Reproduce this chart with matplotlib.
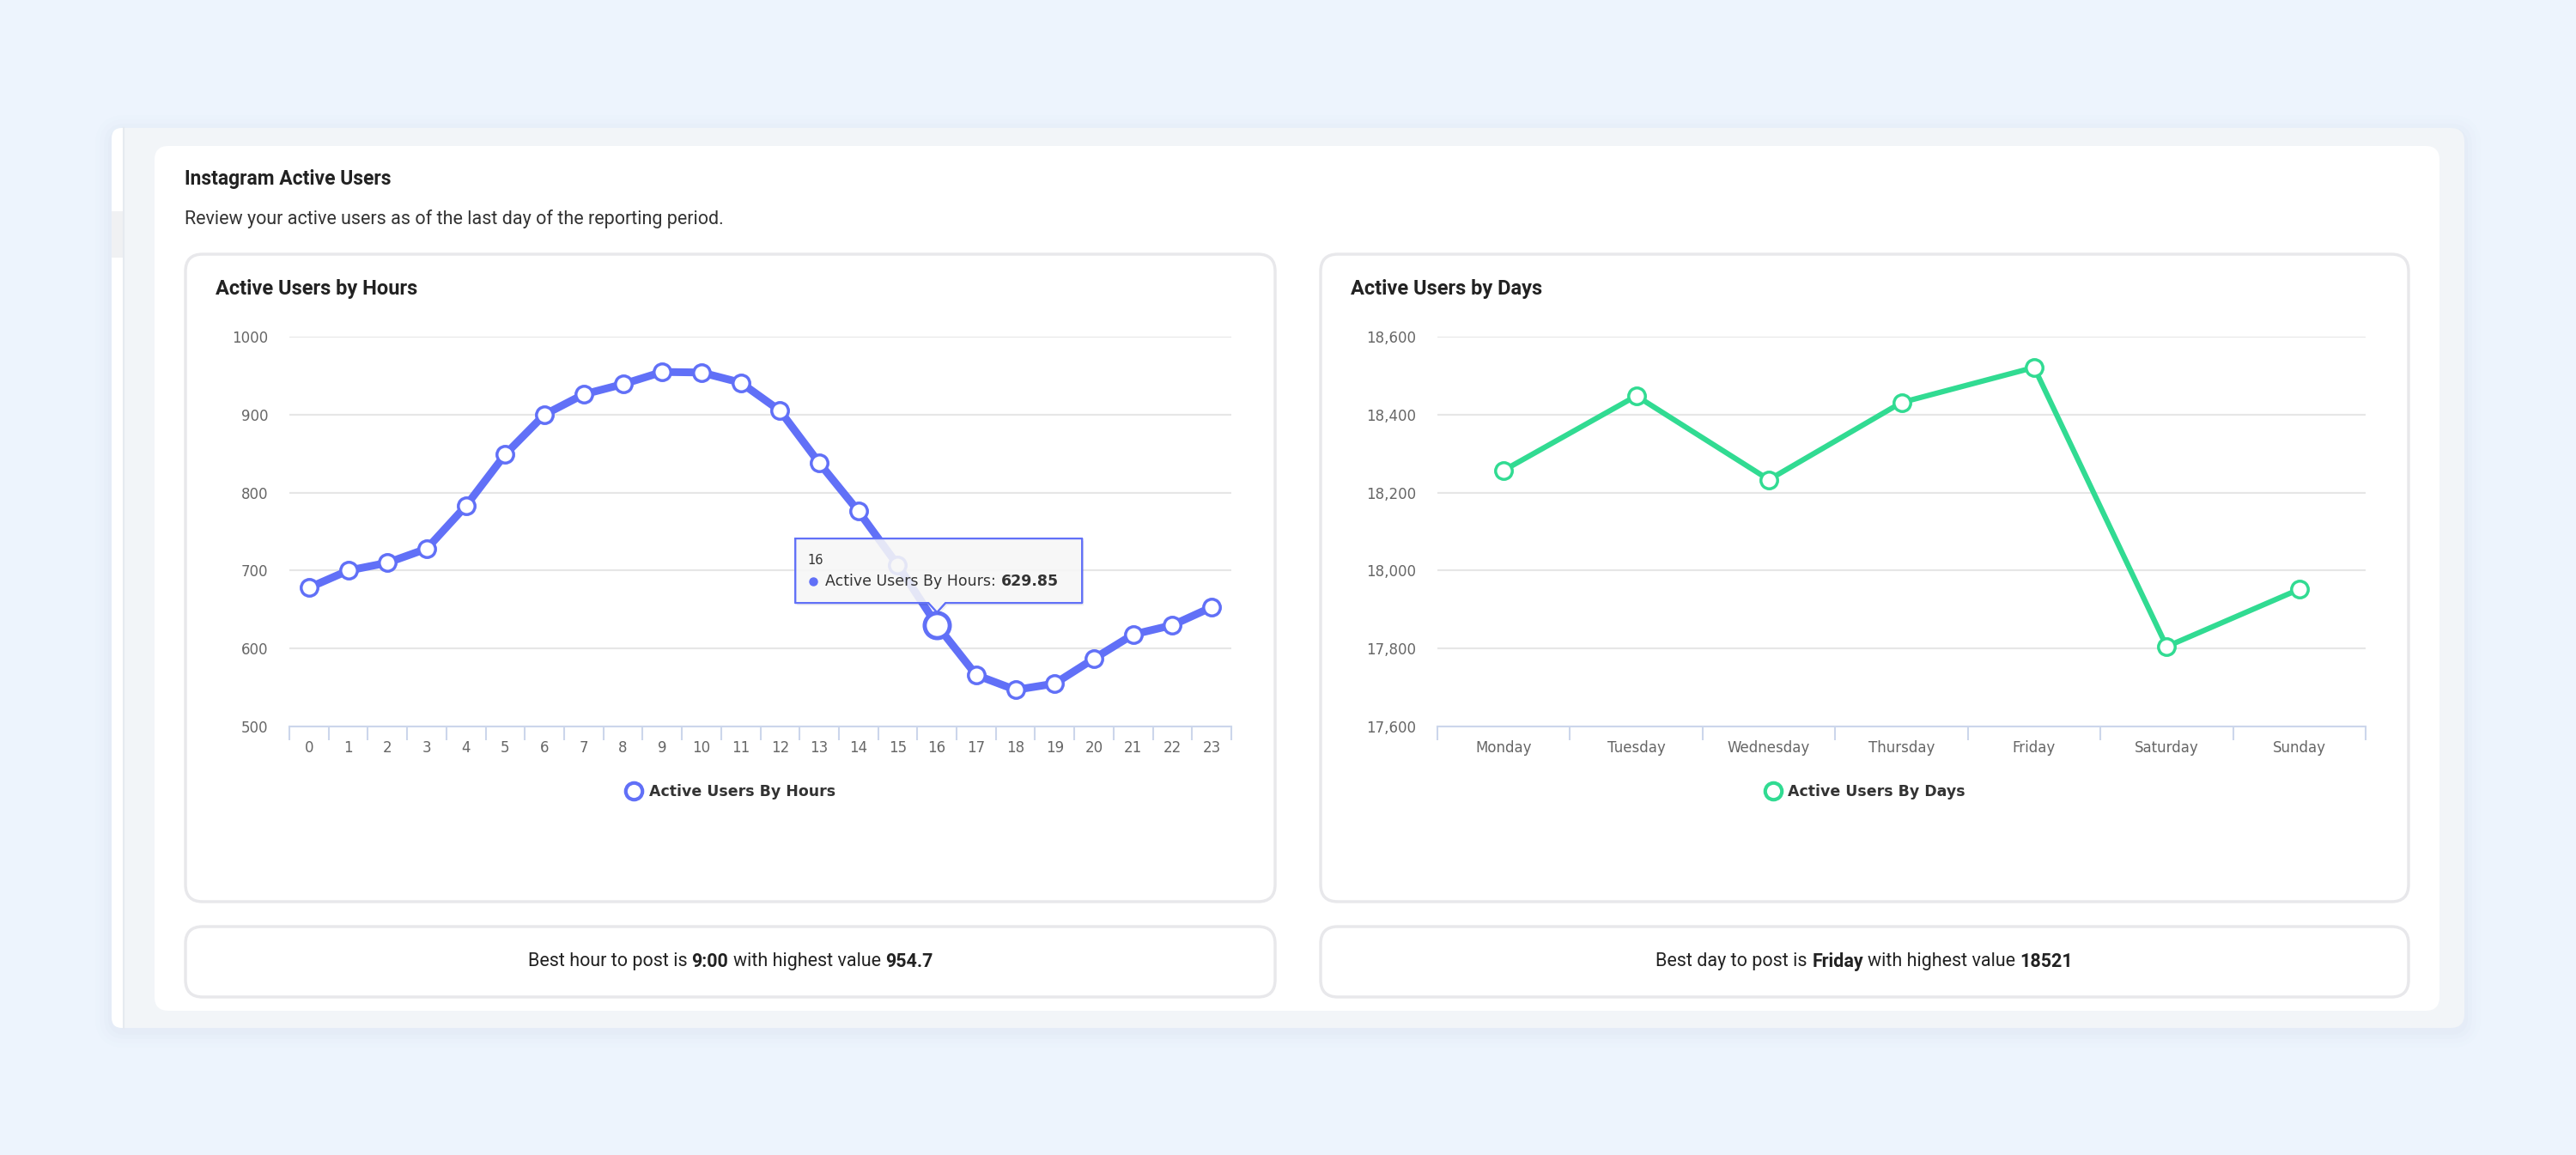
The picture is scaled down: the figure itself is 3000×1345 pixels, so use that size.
import matplotlib
matplotlib.use('Agg')
import numpy as np
import matplotlib.pyplot as plt
from matplotlib.patches import FancyBboxPatch, Polygon, Rectangle
from matplotlib.lines import Line2D
import matplotlib.ticker as mticker

# data
hour_labels = [str(h) for h in range(24)]
active_by_hour = [678, 700, 710, 728, 783, 849, 900, 926, 939, 954.7, 954, 941,
                  905, 838, 776, 707, 629.85, 566, 547, 555, 587, 618, 630, 653]
day_labels = ['Monday', 'Tuesday', 'Wednesday', 'Thursday', 'Friday', 'Saturday', 'Sunday']
active_by_day = [18257, 18448, 18233, 18431, 18521, 17805, 17952]
hover_hour = 16

BLUE = '#6170F7'
GREEN = '#31DB92'
AXIS_C = '#CCD6EB'
GRID_C = '#E6E6E6'
LABEL_C = '#666666'
TEXT_C = '#333333'

W, H = 3000, 1345
fig = plt.figure(figsize=(W / 100, H / 100), dpi=100)
fig.patch.set_facecolor('#EDF4FD')


def full_axes(z):
    a = fig.add_axes([0, 0, 1, 1])
    a.set_xlim(0, W)
    a.set_ylim(H, 0)
    a.axis('off')
    a.set_zorder(z)
    a.patch.set_alpha(0)
    return a


def px_axes(x0, y0, x1, y1):
    return fig.add_axes([x0 / W, 1 - y1 / H, (x1 - x0) / W, (y1 - y0) / H])


def rbox(a, x0, y0, x1, y1, r, **kw):
    a.add_patch(FancyBboxPatch((x0 + r, y0 + r), x1 - x0 - 2 * r, y1 - y0 - 2 * r,
                               boxstyle=f'round,pad={r},rounding_size={r}', **kw))


def rich_text(a, x, y, parts, ha='center', **kw):
    # draws text pieces with mixed weights next to each other
    rend = fig.canvas.get_renderer()
    t1 = a.text(0, 0, 'a a', **kw)
    t2 = a.text(0, 0, 'aa', **kw)
    sp = t1.get_window_extent(rend).width - t2.get_window_extent(rend).width
    t1.remove()
    t2.remove()
    texts = [a.text(0, y, s, fontweight=wt, va='center', ha='left', **kw) for s, wt in parts]
    widths = [t.get_window_extent(rend).width for t in texts]
    total = sum(widths) + sp * (len(texts) - 1)
    start = x - total / 2 if ha == 'center' else x
    for t, w in zip(texts, widths):
        t.set_x(start)
        start += w + sp


bg = full_axes(0)

# outer panel with a soft shadow
for i, al in enumerate([0.05, 0.04, 0.03, 0.02]):
    d = 4 + i * 5
    rbox(bg, 130 - d, 149 - d + 4, 2870 + d, 1197 + d + 4, 16 + d, fc='#B8C8E0', ec='none', alpha=al)
rbox(bg, 130, 149, 2870, 1197, 16, fc='#F2F5F8', ec='none')
rbox(bg, 130, 149, 160, 1197, 12, fc='white', ec='none')
bg.add_patch(Rectangle((144, 149), 16, 1048, fc='#F2F5F8', ec='none'))
bg.add_patch(Rectangle((130, 246), 14, 54, fc='#F0F1F3', ec='none'))
bg.plot([144, 144], [149, 1197], color='#E6EAF0', lw=1.5)
rbox(bg, 180, 170, 2841, 1177, 16, fc='white', ec='none')

bg.text(215, 208, 'Instagram Active Users', family='Roboto', fontweight='bold',
        fontsize=16.5, color='#222222', va='center')
bg.text(215, 255, 'Review your active users as of the last day of the reporting period.',
        family='Roboto', fontsize=15.5, color='#333333', va='center')

cards = [(216, 1485), (1538, 2805)]
for cx0, cx1 in cards:
    rbox(bg, cx0, 296, cx1, 1050, 20, fc='white', ec='#E8E8EB', lw=2.5)
    rbox(bg, cx0, 1079, cx1, 1161, 20, fc='white', ec='#E8E8EB', lw=2.5)

bg.text(251, 337, 'Active Users by Hours', family='Roboto', fontweight='bold',
        fontsize=17, color='#222222', va='center')
bg.text(1573, 337, 'Active Users by Days', family='Roboto', fontweight='bold',
        fontsize=17, color='#222222', va='center')


def style_axes(a, n):
    a.set_zorder(2)
    a.patch.set_alpha(0)
    a.set_xlim(-0.5, n - 0.5)
    for s in ['top', 'right', 'left']:
        a.spines[s].set_visible(False)
    a.spines['bottom'].set_color(AXIS_C)
    a.spines['bottom'].set_linewidth(1.5)
    a.yaxis.grid(True, color=GRID_C, lw=1.5)
    a.set_axisbelow(True)
    a.set_xticks(np.arange(n))
    a.set_xticks(np.arange(n + 1) - 0.5, minor=True)
    a.tick_params(axis='y', length=0, pad=18, labelsize=12, labelcolor=LABEL_C)
    a.tick_params(axis='x', which='major', length=0, pad=11.5, labelsize=12, labelcolor=LABEL_C)
    a.tick_params(axis='x', which='minor', length=11.5, width=1.5, color=AXIS_C)


# hours chart
ax1 = px_axes(337, 392, 1434, 846)
style_axes(ax1, len(hour_labels))
ax1.set_xticklabels(hour_labels)
ax1.set_ylim(500, 1000)
ax1.set_yticks(range(500, 1001, 100))
ax1.plot(range(len(active_by_hour)), active_by_hour, color=BLUE, lw=6.5, marker='o', ms=14,
         mfc='white', mec=BLUE, mew=2.5, solid_joinstyle='round', solid_capstyle='round',
         zorder=3, clip_on=False)
ax1.plot(hover_hour, active_by_hour[hover_hour], marker='o', ms=21, mfc='white', mec=BLUE,
         mew=3.5, zorder=4, clip_on=False)

# days chart
ax2 = px_axes(1674, 392, 2755, 846)
style_axes(ax2, len(day_labels))
ax2.set_xticklabels(day_labels)
ax2.set_ylim(17600, 18600)
ax2.set_yticks(range(17600, 18601, 200))
ax2.yaxis.set_major_formatter(mticker.StrMethodFormatter('{x:,.0f}'))
ax2.plot(range(len(active_by_day)), active_by_day, color=GREEN, lw=4.5, marker='o', ms=14,
         mfc='white', mec=GREEN, mew=2.5, solid_joinstyle='round', zorder=3, clip_on=False)

# legends, centred on the cards
for a, color, label, (cx0, cx1) in [(ax1, BLUE, 'Active Users By Hours', cards[0]),
                                    (ax2, GREEN, 'Active Users By Days', cards[1])]:
    h = Line2D([], [], ls='none', marker='o', ms=14, mfc='white', mec=color, mew=3)
    a.legend([h], [label], loc='center', bbox_to_anchor=((cx0 + cx1) / 2 / W, 1 - 922 / H),
             bbox_transform=fig.transFigure, frameon=False, handletextpad=0.4,
             prop={'weight': 'bold', 'size': 12.5}, labelcolor=TEXT_C, handlelength=1.2)

top = full_axes(10)

# tooltip over the hovered point
dx, dy = ax1.transData.transform((hover_hour, active_by_hour[hover_hour]))
px, py = dx, H - dy
l, r, t, b = px - 165, px + 169, py - 101, py - 26
tip = [(l, t), (r, t), (r, b), (px + 10, b), (px, py - 15), (px - 10, b), (l, b)]
top.add_patch(Polygon([(x + 2, y + 3) for x, y in tip], closed=True, fc='#000000', ec='none', alpha=0.06))
top.add_patch(Polygon(tip, closed=True, fc='#F8F8F8', ec=BLUE, lw=1.5, alpha=0.88, joinstyle='round'))
top.plot([l, r, r, px + 10, px, px - 10, l, l], [t, t, b, b, py - 15, b, b, t], color=BLUE, lw=1.5)
top.text(l + 14, t + 25, hour_labels[hover_hour], fontsize=10.5, color=TEXT_C, va='center')
top.plot(l + 21, t + 50, marker='o', ms=6.5, color=BLUE)
rich_text(top, l + 35, t + 50, [('Active Users By Hours:', 'normal'),
                                (f'{active_by_hour[hover_hour]}', 'bold')],
          ha='left', fontsize=12.5, color=TEXT_C)

# best hour / best day summaries
best_h = int(np.argmax(active_by_hour))
best_d = int(np.argmax(active_by_day))
rich_text(bg, sum(cards[0]) / 2, 1120,
          [('Best hour to post is', 'normal'), (f'{best_h}:00', 'bold'),
           ('with highest value', 'normal'), (f'{active_by_hour[best_h]}', 'bold')],
          family='Roboto', fontsize=15.5, color='#222222')
rich_text(bg, sum(cards[1]) / 2, 1120,
          [('Best day to post is', 'normal'), (day_labels[best_d], 'bold'),
           ('with highest value', 'normal'), (f'{active_by_day[best_d]}', 'bold')],
          family='Roboto', fontsize=15.5, color='#222222')

fig.savefig('out.png', dpi=100)
